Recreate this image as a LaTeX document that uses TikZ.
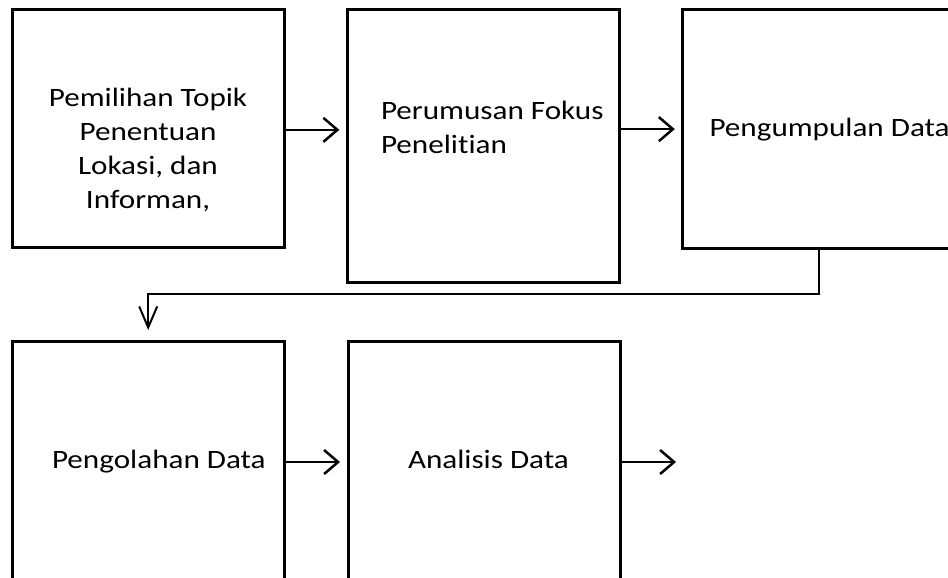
\documentclass[tikz,border=0pt]{standalone}
\usepackage{fontspec}
\setmainfont{Carlito}[FakeStretch=1.175,Ligatures=NoCommon]
\usetikzlibrary{arrows.meta}
\begin{document}
\begin{tikzpicture}[x=1pt,y=-1pt,
  boxnode/.style={draw=black,line width=3pt,inner sep=0pt,outer sep=0pt,minimum width=272pt},
  txt/.style={inner sep=0pt,outer sep=0pt,font=\fontsize{26.5}{34}\selectfont},
  arr/.style={draw=black,line width=2.5pt,-{Straight Barb[length=14pt,width=24pt]}},
  conn/.style={draw=black,line width=2pt,-{Straight Barb[length=21pt,width=18pt]}}]
\useasboundingbox (0,0) rectangle (948,578);
\clip (0,0) rectangle (948,578);
\node[boxnode,minimum height=237.7pt] (b1) at (148.2,128.85) {};
\node[boxnode,minimum height=272.7pt] (b2) at (483.3,146.35) {};
\node[boxnode,minimum height=238.3pt] (b3) at (818.8,129.15) {};
\node[boxnode,minimum height=242pt] (b4) at (148.2,462) {};
\node[boxnode,minimum height=242pt] (b5) at (484,462) {};
\node[txt,align=center,anchor=base] (t1) at (148,208.5) {Pemilihan Topik\\Penentuan\\Lokasi, dan\\Informan,};
\node[txt,align=left,anchor=base west] (t2) at (381,153.5) {Perumusan Fokus\\Penelitian};
\node[txt,anchor=base west] (t3) at (709.5,136.7) {Pengumpulan Data};
\node[txt,anchor=base west] (t4) at (52,468.3) {Pengolahan Data};
\node[txt,anchor=base west] (t5) at (408,468.3) {Analisis Data};
\coordinate (a4end) at (676,462);
\coordinate (bend) at (818.8,294);
\draw[arr,shorten >=8pt] ([yshift=-1pt]b1.east) -- ([yshift=-1pt]b2.west |- b1.east);
\draw[arr,shorten >=8pt] (b2.east |- b3.west) -- (b3.west);
\draw[arr,shorten >=8pt] (b4.east) -- (b5.west);
\draw[arr] (b5.east) -- (a4end);
\draw[conn] (b3.south) -- (bend) -| ([yshift=11pt]b4.north);
\end{tikzpicture}
\end{document}
